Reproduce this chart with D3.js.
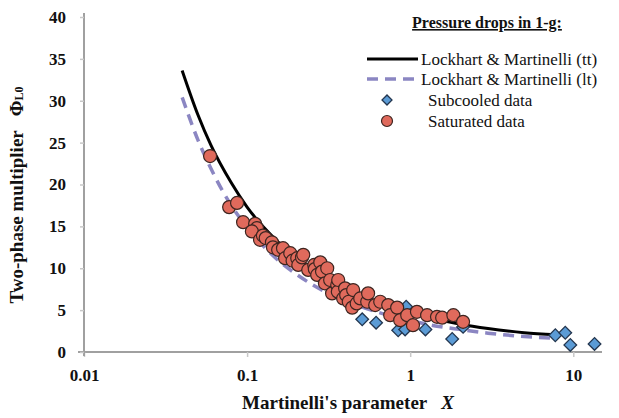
<!DOCTYPE html>
<html>
<head>
<meta charset="utf-8">
<script src="https://cdn.jsdelivr.net/npm/d3@7"></script>
<style>
  body { margin: 0; background: #fff; }
  svg { display: block; font-family: 'Liberation Serif', 'Times New Roman', serif; }
</style>
</head>
<body>
<div id="chart"></div>
<script>
// saturated data (red circles)
const satX = [0.0593, 0.0776, 0.0868, 0.0945, 0.112, 0.115, 0.107, 0.120, 0.125, 0.13, 0.142, 0.144,
  0.155, 0.166, 0.171, 0.184, 0.19, 0.203, 0.206, 0.217, 0.221, 0.237, 0.258, 0.26, 0.269, 0.281, 0.288,
  0.30, 0.310, 0.323, 0.332, 0.357, 0.36, 0.362, 0.388, 0.399, 0.405, 0.42, 0.441, 0.447, 0.47, 0.494,
  0.545, 0.552, 0.610, 0.655, 0.733, 0.754, 0.832, 0.868, 0.959, 1.04, 1.10, 1.27, 1.46, 1.57, 1.84, 2.11];
const satY = [23.4, 17.3, 17.8, 15.5, 15.3, 14.8, 14.4, 13.4, 13.9, 13.6, 13.1, 12.5,
  12.2, 12.4, 11.2, 11.8, 10.9, 11.2, 10.4, 11.3, 11.6, 9.8, 10.4, 9.9, 9.2, 10.7, 9.6,
  8.2, 10.0, 8.6, 7.0, 8.0, 7.2, 8.6, 6.4, 7.6, 6.8, 6.0, 5.3, 7.4, 5.8, 6.4,
  6.0, 7.0, 5.6, 6.0, 5.6, 4.4, 5.3, 3.8, 4.4, 3.2, 4.8, 4.4, 4.2, 4.1, 4.4, 3.6];

// subcooled data (blue diamonds)
const subX = [0.508, 0.618, 0.844, 0.931, 0.945, 1.24, 1.81, 2.11, 7.76, 8.93, 9.59, 13.5];
const subY = [3.9, 3.5, 2.6, 2.7, 5.4, 2.7, 1.55, 3.0, 2.0, 2.3, 0.84, 0.96];

// Lockhart & Martinelli curves
const ttX = [0.04, 0.05, 0.06, 0.08, 0.1, 0.15, 0.2, 0.3, 0.5, 0.7, 1, 1.5, 2, 3, 5, 7.8];
const ttY = [33.6, 28.3, 24.7, 20.2, 17.3, 13.4, 11.2, 8.9, 6.7, 5.6, 4.7, 3.85, 3.35, 2.8, 2.3, 2.05];
const ltX = [0.04, 0.05, 0.06, 0.08, 0.1, 0.15, 0.2, 0.3, 0.5, 0.7, 1, 1.5, 2, 3, 5, 7.8];
const ltY = [30.4, 25.3, 21.9, 17.5, 14.9, 11.2, 9.3, 7.2, 5.4, 4.5, 3.75, 3.05, 2.7, 2.25, 1.85, 1.65];

const xTicks = [0.01, 0.1, 1, 10];
const xTickLabels = ['0.01', '0.1', '1', '10'];
const yTicks = [0, 5, 10, 15, 20, 25, 30, 35, 40];

const legendItems = ['Lockhart & Martinelli (tt)', 'Lockhart & Martinelli (lt)', 'Subcooled data', 'Saturated data'];

const width = 619;
const height = 418;
const svg = d3.select('#chart').append('svg').attr('width', width).attr('height', height);

const x = d3.scaleLog().domain([0.01, 15]).range([84, 602]);
const y = d3.scaleLinear().domain([0, 40]).range([352, 17]);

const axisColor = '#a0a0a0';
const satFill = '#e06a5c';
const subFill = '#5b9bd5';
const ltColor = '#8b86c2';

// axes
const xAxis = svg.append('g')
  .attr('transform', `translate(0, ${y(0)})`)
  .call(d3.axisBottom(x).tickValues(xTicks).tickFormat((d, i) => xTickLabels[i]).tickSize(5).tickPadding(12));
xAxis.select('.domain').attr('stroke', axisColor).attr('stroke-width', 2).attr('d', `M78,0H${x(15)}`);

const yAxis = svg.append('g')
  .attr('transform', `translate(${x(0.01)}, 0)`)
  .call(d3.axisLeft(y).tickValues(yTicks).tickSize(4).tickPadding(14));
yAxis.select('.domain').attr('stroke', axisColor).attr('stroke-width', 2).attr('d', `M0,${y(0) + 4}V13`);

svg.selectAll('.tick line').attr('stroke', '#c8c8c8').attr('stroke-width', 1.5);
svg.selectAll('.tick text')
  .style('font-family', "'Liberation Serif', serif")
  .style('font-size', '17px')
  .style('font-weight', 'bold')
  .attr('fill', '#111');

// axis titles
const xTitle = svg.append('text')
  .attr('x', 348)
  .attr('y', 409)
  .attr('text-anchor', 'middle')
  .style('font-size', '19px')
  .style('font-weight', 'bold')
  .attr('fill', '#111');
xTitle.append('tspan').text("Martinelli's parameter");
xTitle.append('tspan').attr('dx', 14).style('font-style', 'italic').text('X');

const yTitle = svg.append('text')
  .attr('transform', 'translate(23, 195) rotate(-90)')
  .attr('text-anchor', 'middle')
  .style('font-size', '19px')
  .style('font-weight', 'bold')
  .attr('fill', '#111');
yTitle.append('tspan').text('Two-phase multiplier');
yTitle.append('tspan').attr('dx', 14).text('Φ');
yTitle.append('tspan').style('font-size', '12px').text('L0');

// curves
const line = d3.line().x((d) => x(d[0])).y((d) => y(d[1])).curve(d3.curveMonotoneX);

svg.append('path')
  .datum(ltX.map((v, i) => [v, ltY[i]]))
  .attr('d', line)
  .attr('fill', 'none')
  .attr('stroke', ltColor)
  .attr('stroke-width', 3.5)
  .attr('stroke-dasharray', '11,7');

svg.append('path')
  .datum(ttX.map((v, i) => [v, ttY[i]]))
  .attr('d', line)
  .attr('fill', 'none')
  .attr('stroke', '#000')
  .attr('stroke-width', 3);

// markers
const diamond = d3.symbol().type(d3.symbolSquare).size(80);

svg.append('g')
  .selectAll('path')
  .data(subX.map((v, i) => [v, subY[i]]))
  .join('path')
  .attr('d', diamond)
  .attr('transform', (d) => `translate(${x(d[0])}, ${y(d[1])}) rotate(45)`)
  .attr('fill', subFill)
  .attr('stroke', '#23364f')
  .attr('stroke-width', 1.3);

svg.append('g')
  .selectAll('circle')
  .data(satX.map((v, i) => [v, satY[i]]))
  .join('circle')
  .attr('cx', (d) => x(d[0]))
  .attr('cy', (d) => y(d[1]))
  .attr('r', 6.5)
  .attr('fill', satFill)
  .attr('stroke', '#3d2520')
  .attr('stroke-width', 1.2);

// legend
const legend = svg.append('g');
legend.append('text')
  .attr('x', 487)
  .attr('y', 28)
  .attr('text-anchor', 'middle')
  .style('font-size', '16px')
  .style('font-weight', 'bold')
  .style('text-decoration', 'underline')
  .attr('fill', '#111')
  .text('Pressure drops in 1-g:');

const rowY = [59, 79, 100, 121];
legend.append('line').attr('x1', 367).attr('x2', 418).attr('y1', rowY[0]).attr('y2', rowY[0])
  .attr('stroke', '#000').attr('stroke-width', 3);
legend.append('line').attr('x1', 367).attr('x2', 418).attr('y1', rowY[1]).attr('y2', rowY[1])
  .attr('stroke', ltColor).attr('stroke-width', 3.5).attr('stroke-dasharray', '11,7');
legend.append('path').attr('d', d3.symbol().type(d3.symbolSquare).size(50))
  .attr('transform', `translate(387, ${rowY[2]}) rotate(45)`)
  .attr('fill', subFill).attr('stroke', '#23364f').attr('stroke-width', 1.3);
legend.append('circle').attr('cx', 387).attr('cy', rowY[3]).attr('r', 5.5)
  .attr('fill', satFill).attr('stroke', '#3d2520').attr('stroke-width', 1.2);

legend.selectAll('.item')
  .data(legendItems)
  .join('text')
  .attr('x', (d, i) => (i < 2 ? 421 : 428))
  .attr('y', (d, i) => rowY[i])
  .attr('dy', '0.35em')
  .style('font-size', '17px')
  .attr('fill', '#111')
  .text((d) => d);
</script>
</body>
</html>
